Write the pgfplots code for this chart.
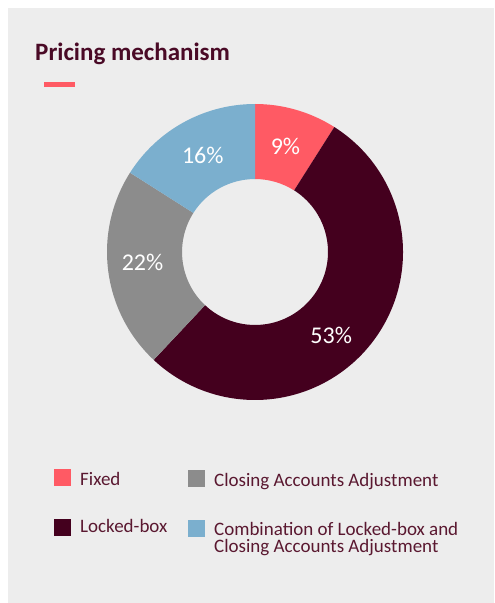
\documentclass[border=0pt]{standalone}
\usepackage{fontspec}
\setmainfont{Carlito}
\usepackage{pgfplots}
\pgfplotsset{compat=1.18}
\definecolor{bgc}{HTML}{EDEDED}
\definecolor{fixedc}{HTML}{FF5A64}
\definecolor{lockedc}{HTML}{44001E}
\definecolor{closingc}{HTML}{8C8C8C}
\definecolor{combc}{HTML}{7BAFCE}
\definecolor{titlec}{HTML}{4A0A26}
\definecolor{textc}{HTML}{5A1830}
% slice from cumulative percentage #1 to #2, colour #3
\newcommand\slice[3]{%
  \fill[#3] (axis cs:{cos(90-3.6*#1)},{sin(90-3.6*#1)})
    arc[start angle={90-3.6*#1}, end angle={90-3.6*(#2)}, radius=148pt]
    -- (axis cs:{0.493*cos(90-3.6*(#2))},{0.493*sin(90-3.6*(#2))})
    arc[start angle={90-3.6*(#2)}, end angle={90-3.6*#1}, radius=73pt]
    -- cycle;}
\begin{document}
\begin{tikzpicture}
\useasboundingbox (0,0) rectangle (495pt,603pt);
\fill[white] (0,0) rectangle (495pt,603pt);
\fill[bgc] (8pt,0) rectangle (494pt,595pt);
\node[anchor=base west, inner sep=0pt, text=titlec, font=\fontsize{25}{30}\selectfont\bfseries] at (35pt,542pt) {Pricing mechanism};
\fill[fixedc] (44pt,516pt) rectangle (75pt,521pt);
\begin{axis}[at={(255pt,351pt)}, anchor=center, scale only axis,
  width=296pt, height=296pt, xmin=-1, xmax=1, ymin=-1, ymax=1, hide axis]
% values: Fixed 9, Locked-box 53, Closing 22, Combination 16
\slice{0}{9}{fixedc}
\slice{9}{9+53}{lockedc}
\slice{62}{62+22}{closingc}
\slice{84}{84+16}{combc}
\begin{scope}[every node/.style={text=white, font=\fontsize{24}{28}\selectfont, inner sep=0pt}]
\node at (axis cs:0.206,0.711) {9\%};
\node at (axis cs:0.515,-0.561) {53\%};
\node at (axis cs:-0.760,-0.071) {22\%};
\node at (axis cs:-0.353,0.655) {16\%};
\end{scope}
\end{axis}
\begin{scope}[every node/.style={anchor=base west, inner sep=0pt, text=textc, font=\fontsize{19}{22}\selectfont}]
\fill[fixedc] (54pt,117.3pt) rectangle (70.7pt,134pt);
\node at (80pt,117.8pt) {Fixed};
\fill[closingc] (188pt,116.3pt) rectangle (204.7pt,133pt);
\node at (214pt,116.5pt) {Closing Accounts Adjustment};
\fill[lockedc] (54pt,67.3pt) rectangle (70.7pt,84pt);
\node at (80pt,70pt) {Locked-box};
\fill[combc] (188pt,66.3pt) rectangle (204.7pt,83pt);
\node[align=left, font=\fontsize{19}{17.3}\selectfont] at (214pt,50.7pt) {Combination of Locked-box and\\Closing Accounts Adjustment};
\end{scope}
\end{tikzpicture}
\end{document}
